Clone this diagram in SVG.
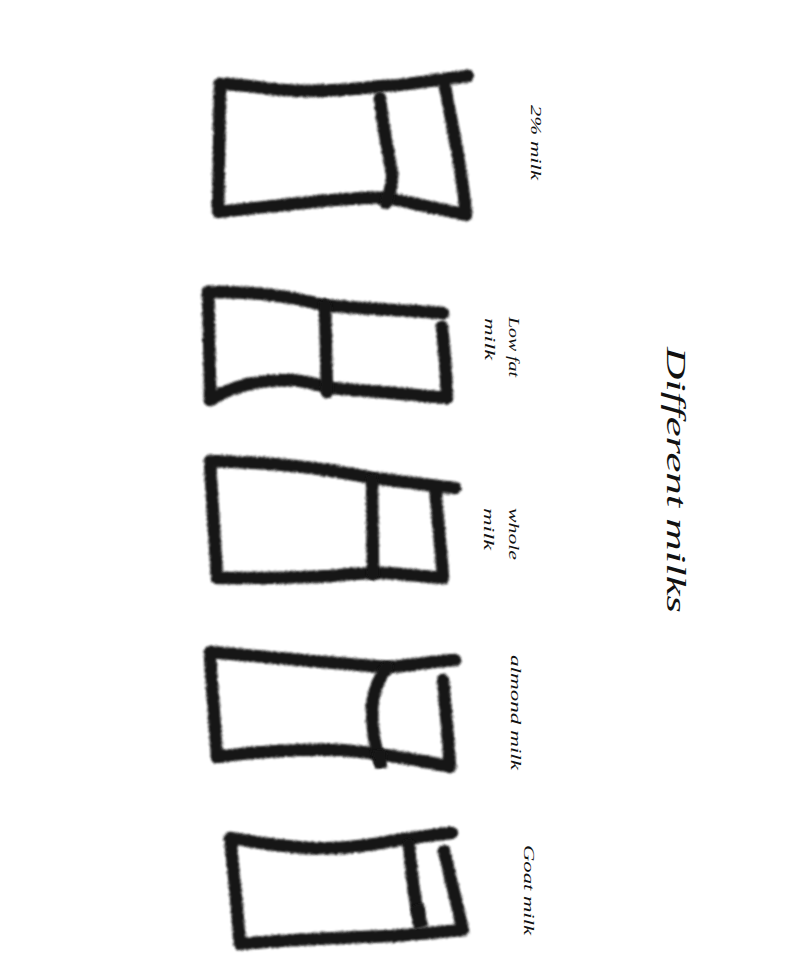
<svg xmlns="http://www.w3.org/2000/svg" width="785" height="962" viewBox="0 0 785 962">
<style>
.ink{fill:none;stroke:#161616;stroke-width:12.5;stroke-linecap:round;stroke-linejoin:round;filter:url(#chalk)}
.lbl{font-family:"Liberation Serif","DejaVu Serif",serif;font-style:italic;font-size:15px;fill:#111}
.title{font-family:"Liberation Serif","DejaVu Serif",serif;font-style:italic;font-size:27px;fill:#111}
</style>
<defs>
<filter id="chalk" filterUnits="userSpaceOnUse" x="0" y="0" width="785" height="962">
<feTurbulence type="fractalNoise" baseFrequency="0.9" numOctaves="2" seed="3" result="n"/>
<feDisplacementMap in="SourceGraphic" in2="n" scale="4" xChannelSelector="R" yChannelSelector="G" result="d"/>
<feGaussianBlur in="d" stdDeviation="0.8"/>
</filter>
</defs>
<rect width="785" height="962" fill="#fff"/>
<g id="connectors"/>
<g id="carton-2pct">
<path class="ink" d="M468,76 C430,80 405,86 383,86 C350,90 310,92 283,90 C260,88 240,84 220,84 C219,130 219,170 218,212 C240,210 290,204 333,200 C360,198 375,197 388,198 C420,205 445,210 466,215 C463,177 453,127 445,87"/>
<path class="ink" d="M380,98 C383,130 390,160 392,175 C393,185 388,195 386,203"/>
<text class="lbl" transform="translate(531,105) rotate(90)" textLength="75" lengthAdjust="spacingAndGlyphs">2% milk</text>
</g>
<g id="carton-lowfat">
<path class="ink" d="M443,313 C400,310 350,308 323,305 C290,296 260,292 208,292 C209,330 210,370 210,400 C225,390 250,380 290,380 C310,381 320,386 330,388 C380,392 420,395 447,398 C446,370 444,345 442,327"/>
<path class="ink" d="M325,305 L327,392"/>
<text class="lbl" transform="translate(509,317) rotate(90)" textLength="60" lengthAdjust="spacingAndGlyphs">Low fat</text>
<text class="lbl" transform="translate(485,318) rotate(90)" textLength="42" lengthAdjust="spacingAndGlyphs">milk</text>
</g>
<g id="carton-whole">
<path class="ink" d="M455,488 C420,484 390,480 373,478 C330,470 290,463 210,461 C212,500 215,540 217,578 C260,578 300,578 330,576 C360,573 380,572 400,574 L443,578 C441,550 438,520 435,488"/>
<path class="ink" d="M372,480 L373,574"/>
<text class="lbl" transform="translate(509,508) rotate(90)" textLength="52" lengthAdjust="spacingAndGlyphs">whole</text>
<text class="lbl" transform="translate(484,508) rotate(90)" textLength="42" lengthAdjust="spacingAndGlyphs">milk</text>
</g>
<g id="carton-almond">
<path class="ink" d="M455,660 C420,663 400,667 387,667 C340,664 300,660 210,652 C212,690 215,725 217,757 C250,752 300,749 340,750 C380,753 420,760 450,767 C448,740 446,710 443,680"/>
<path class="ink" d="M387,667 C378,680 372,695 372,710 C372,730 376,750 380,762"/>
<path class="ink" style="stroke-linecap:butt" d="M379,750 L381,768"/>
<text class="lbl" transform="translate(511,655) rotate(90)" textLength="115" lengthAdjust="spacingAndGlyphs">almond milk</text>
</g>
<g id="carton-goat">
<path class="ink" d="M452,833 C420,836 400,840 360,846 C330,850 300,850 230,838 C234,870 237,910 240,944 C280,940 330,938 393,936 L463,930 L444,851"/>
<path class="ink" d="M409,845 C412,880 415,900 418,915"/>
<path class="ink" style="stroke-linecap:butt;stroke-width:14" d="M417,905 L421,928"/>
<text class="lbl" transform="translate(524,845) rotate(90)" textLength="90" lengthAdjust="spacingAndGlyphs">Goat milk</text>
</g>
<g id="title">
<text class="title" transform="translate(667,347) rotate(90)" textLength="266" lengthAdjust="spacingAndGlyphs">Different milks</text>
</g>
</svg>
